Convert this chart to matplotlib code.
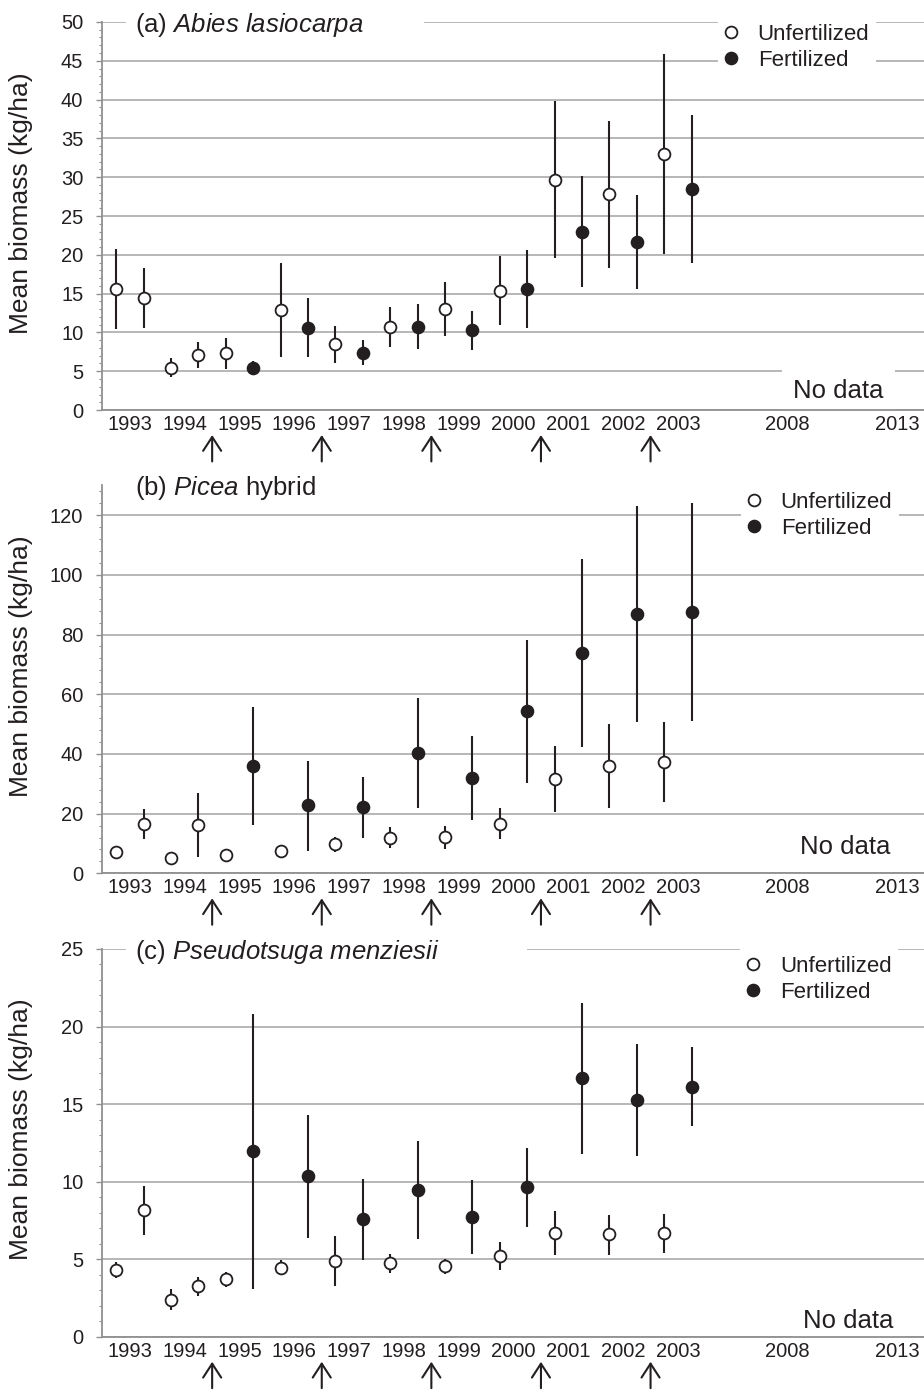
import matplotlib
matplotlib.use("Agg")
import numpy as np
import matplotlib.pyplot as plt
from matplotlib.lines import Line2D
from matplotlib.ticker import MultipleLocator
from matplotlib.transforms import ScaledTranslation

plt.rcParams['font.family'] = ['Liberation Sans', 'DejaVu Sans']
plt.rcParams['mathtext.fontset'] = 'custom'
plt.rcParams['mathtext.rm'] = 'Liberation Sans'
plt.rcParams['mathtext.it'] = 'Liberation Sans:italic'

INK = '#231f20'
GRID = '#a3a3a3'
SPINE = '#909090'

# sampling years (two samplings per year), extra axis labels with no data
years = ['1993', '1994', '1995', '1996', '1997', '1998',
         '1999', '2000', '2001', '2002', '2003']
year_labels = years + ['2008', '2013']
label_pos = list(range(len(years))) + [12, 14]
fert_years = ['1994', '1996', '1998', '2000', '2002']

# 0 = unfertilized, 1 = fertilized, one entry per sampling
fertilized = [0, 0, 0, 0, 0, 1, 0, 1, 0, 1, 0, 1,
              0, 1, 0, 1, 0, 1, 0, 1, 0, 1]

# (a) Abies lasiocarpa
abies_mean = [15.6, 14.5, 5.4, 7.1, 7.3, 5.4, 12.9, 10.6, 8.5, 7.4, 10.7,
              10.7, 13.0, 10.3, 15.4, 15.6, 29.7, 22.9, 27.8, 21.6, 33.0, 28.5]
abies_lo = [10.4, 10.6, 4.3, 5.4, 5.3, 4.5, 6.8, 6.8, 6.1, 5.8, 8.1,
            7.9, 9.6, 7.7, 11.0, 10.6, 19.6, 15.8, 18.3, 15.6, 20.1, 19.0]
abies_hi = [20.7, 18.3, 6.7, 8.8, 9.3, 6.3, 19.0, 14.4, 10.8, 9.0, 13.3,
            13.7, 16.5, 12.8, 19.8, 20.6, 39.8, 30.2, 37.3, 27.7, 45.9, 38.0]

# (b) Picea hybrid
picea_mean = [7.0, 16.5, 5.0, 16.2, 6.2, 35.9, 7.6, 22.8, 9.7, 22.1, 11.9,
              40.4, 12.2, 32.0, 16.6, 54.4, 31.7, 73.9, 36.0, 87.0, 37.4, 87.5]
picea_lo = [6.2, 11.4, 4.3, 5.6, 5.5, 16.2, 6.8, 7.6, 7.0, 11.9, 8.4,
            22.0, 8.0, 17.9, 11.5, 30.3, 20.6, 42.4, 22.0, 50.8, 23.8, 51.0]
picea_hi = [7.8, 21.5, 5.7, 26.8, 6.9, 55.8, 8.4, 37.7, 12.3, 32.2, 15.4,
            58.6, 15.9, 46.1, 21.8, 78.1, 42.8, 105.4, 50.1, 123.0, 50.6, 124.0]

# (c) Pseudotsuga menziesii
pseudo_mean = [4.31, 8.15, 2.4, 3.26, 3.7, 11.96, 4.42, 10.34, 4.91, 7.59, 4.74,
               9.46, 4.57, 7.74, 5.22, 9.63, 6.7, 16.68, 6.6, 15.25, 6.66, 16.12]
pseudo_lo = [3.77, 6.57, 1.73, 2.65, 3.23, 3.06, 3.95, 6.38, 3.28, 4.98, 4.14,
             6.3, 4.05, 5.35, 4.31, 7.07, 5.3, 11.81, 5.3, 11.63, 5.37, 13.57]
pseudo_hi = [4.85, 9.7, 3.06, 3.88, 4.16, 20.8, 4.96, 14.3, 6.49, 10.17, 5.35,
             12.65, 5.04, 10.08, 6.1, 12.19, 8.08, 21.53, 7.84, 18.9, 7.91, 18.68]

titles = [r'(a) $\mathit{Abies\ lasiocarpa}$',
          r'(b) $\mathit{Picea}$ hybrid',
          r'(c) $\mathit{Pseudotsuga\ menziesii}$']
# the title boxes in the original run on past the text
title_tail = [8, 0, 12]

panels = [
    # data, ylim top, major, minor, axes box, legend anchor, "No data" spot
    ((abies_mean, abies_lo, abies_hi), 50, 5, 1,
     [0.1104, 0.705, 0.8896, 0.2792], (0.749, 0.934), (12.93, 2.45)),
    ((picea_mean, picea_lo, picea_hi), 130, 20, 4,
     [0.1104, 0.3717, 0.8896, 0.2792], (0.777, 0.922), (13.06, 8.9)),
    ((pseudo_mean, pseudo_lo, pseudo_hi), 25, 5, 1,
     [0.1104, 0.0383, 0.8896, 0.2790], (0.776, 0.922), (13.11, 1.0)),
]

# sample positions: first / second sampling of each year
x = np.array([k // 2 + (-0.25 if k % 2 == 0 else 0.25)
              for k in range(len(fertilized))])
fert = np.array(fertilized)

fig = plt.figure(figsize=(9.24, 13.9), dpi=100)

for (data, ytop, major, minor, box, leg_xy, nd_xy), title, tail in zip(panels, titles, title_tail):
    ax = fig.add_axes(box)
    mean, lo, hi = (np.array(d) for d in data)

    for flag, face in [(0, 'white'), (1, INK)]:
        m = fert == flag
        ax.errorbar(x[m], mean[m], yerr=[mean[m] - lo[m], hi[m] - mean[m]],
                    fmt='o', ms=8.5, mfc=face, mec=INK, mew=1.3,
                    ecolor=INK, elinewidth=1.5, capsize=0, zorder=3)

    ax.set_xlim(-0.51, 14.49)
    ax.set_ylim(0, ytop)
    ax.yaxis.set_major_locator(MultipleLocator(major))
    ax.yaxis.set_minor_locator(MultipleLocator(minor))
    ax.set_axisbelow(True)
    ax.xaxis.set_zorder(2.4)   # keep year labels above the "No data" box
    ax.grid(axis='y', which='major', color=GRID, lw=1.1)
    for s in ['top', 'right']:
        ax.spines[s].set_visible(False)
    for s in ['left', 'bottom']:
        ax.spines[s].set_color(SPINE)
        ax.spines[s].set_linewidth(1.3)

    ax.set_xticks(label_pos, year_labels)
    ax.tick_params(axis='x', length=0, pad=3.5, labelsize=14.5, labelcolor=INK)
    ax.tick_params(axis='y', which='major', length=4, width=1.0, color=SPINE,
                   pad=9.5, labelsize=14.5, labelcolor=INK)
    ax.tick_params(axis='y', which='minor', length=2.3, width=0.8, color=SPINE)

    ax.set_ylabel('Mean biomass (kg/ha)', fontsize=19, color=INK)
    ax.yaxis.set_label_coords(-0.084, 0.534)

    ax.text(0.040, 0.992, title + ' ' * tail, transform=ax.transAxes,
            fontsize=18.5, ha='left', va='center', color=INK, zorder=2.2,
            bbox=dict(boxstyle='square,pad=0.35', fc='white', ec='none'))

    ax.text(nd_xy[0], nd_xy[1], 'No data', fontsize=18.5, ha='center',
            va='center', color=INK, zorder=2.2,
            bbox=dict(boxstyle='square,pad=0.45', fc='white', ec='none'))

    handles = [Line2D([], [], ls='none', marker='o', ms=8.5, mfc='white',
                      mec=INK, mew=1.3, label='Unfertilized'),
               Line2D([], [], ls='none', marker='o', ms=8.5, mfc=INK,
                      mec=INK, mew=1.3, label='Fertilized')]
    leg = ax.legend(handles=handles, loc='center left', bbox_to_anchor=leg_xy,
                    fontsize=16, frameon=True, fancybox=False, facecolor='white',
                    edgecolor='none', framealpha=1, borderaxespad=0,
                    borderpad=0.3, handlelength=0.6, handletextpad=0.9,
                    labelspacing=0.22)
    for t in leg.get_texts():
        t.set_color(INK)

    # fertilization arrows below the axis
    tip = ax.get_xaxis_transform() + ScaledTranslation(0, -0.25, fig.dpi_scale_trans)
    for yr in fert_years:
        xa = years.index(yr) + 0.5
        ax.annotate('', xy=(xa, 0), xycoords=tip, xytext=(0, -19),
                    textcoords='offset points', annotation_clip=False,
                    arrowprops=dict(arrowstyle='->,head_length=1.0,head_width=0.65',
                                    color=INK, lw=1.5, shrinkA=0, shrinkB=0,
                                    mutation_scale=10))

fig.savefig('out.png', dpi=100)
